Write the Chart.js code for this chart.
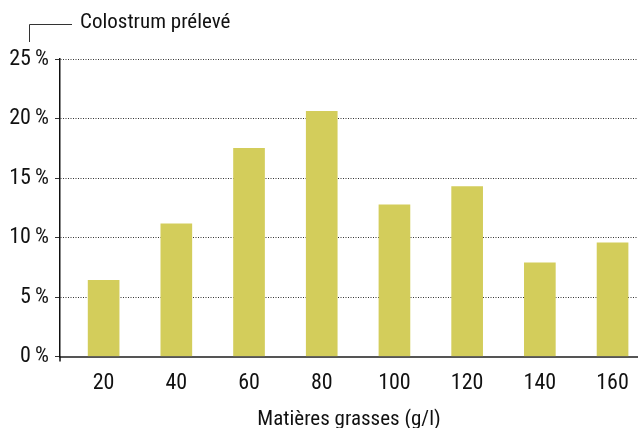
<!DOCTYPE html>
<html>
<head>
<meta charset="utf-8">
<script src="https://cdn.jsdelivr.net/npm/chart.js@4"></script>
<style>
html,body{margin:0;padding:0;background:#fff;overflow:hidden;}
#wrap{width:638px;height:428px;position:relative;}
</style>
</head>
<body>
<div id="wrap"><canvas id="c" width="638" height="428"></canvas></div>
<script>
const categories = [20, 40, 60, 80, 100, 120, 140, 160];
const colostrum = [6.4, 11.15, 17.5, 20.6, 12.75, 14.27, 7.87, 9.55];
const yTicks = [0, 5, 10, 15, 20, 25];
const seriesLabel = 'Colostrum prélevé';
const xTitle = 'Matières grasses (g/l)';

const FONT = '"Roboto Condensed", "DejaVu Sans Condensed", sans-serif';

const legendPlugin = {
  id: 'bracketLegend',
  afterDraw(chart) {
    const ctx = chart.ctx;
    ctx.save();
    ctx.strokeStyle = '#333';
    ctx.lineWidth = 1;
    ctx.beginPath();
    ctx.moveTo(29.5, 42);
    ctx.lineTo(29.5, 24.5);
    ctx.lineTo(72, 24.5);
    ctx.stroke();
    ctx.fillStyle = '#111';
    ctx.font = '21px ' + FONT;
    ctx.textBaseline = 'middle';
    ctx.textAlign = 'left';
    ctx.fillText(chart.data.datasets[0].label, 80, 23);
    const a = chart.chartArea;
    ctx.strokeStyle = '#111';
    ctx.lineWidth = 1.5;
    ctx.beginPath();
    ctx.moveTo(a.left, a.bottom);
    ctx.lineTo(a.left, a.bottom + 5);
    ctx.stroke();
    ctx.restore();
  }
};

new Chart(document.getElementById('c'), {
  type: 'bar',
  data: {
    datasets: [{
      label: seriesLabel,
      data: categories.map((x, i) => ({x: x, y: colostrum[i]})),
      backgroundColor: '#d3cd5b',
      borderWidth: 0,
      barThickness: 31
    }]
  },
  options: {
    responsive: false,
    animation: false,
    layout: {padding: {top: 59, right: 0, left: 0, bottom: 0}},
    plugins: {legend: {display: false}, tooltip: {enabled: false}},
    scales: {
      x: {
        type: 'linear',
        offset: false,
        min: 8,
        max: 167,
        afterBuildTicks: s => { s.ticks = categories.map(v => ({value: v})); },
        afterFit: s => { s.height = 71.5; },
        grid: {display: false},
        border: {display: true, color: '#555', width: 2},
        ticks: {
          color: '#111',
          font: {family: FONT, size: 22},
          padding: 6,
          maxRotation: 0,
          autoSkip: false,
          callback: v => String(v)
        },
        title: {
          display: true,
          text: xTitle,
          color: '#111',
          font: {family: FONT, size: 21, lineHeight: 1},
          padding: {top: 4, bottom: -2}
        }
      },
      y: {
        min: 0,
        max: 25,
        afterBuildTicks: s => { s.ticks = yTicks.map(v => ({value: v})); },
        afterFit: s => { s.width = 60; },
        grid: {color: '#333', lineWidth: 1, tickLength: 5, drawTicks: true},
        border: {display: true, color: '#111', width: 1.5, dash: [1, 1.5]},
        ticks: {
          color: '#111',
          font: {family: FONT, size: 22},
          padding: 6,
          callback: v => v + '\u2009%'
        }
      }
    }
  },
  plugins: [legendPlugin]
});
</script>
</body>
</html>
